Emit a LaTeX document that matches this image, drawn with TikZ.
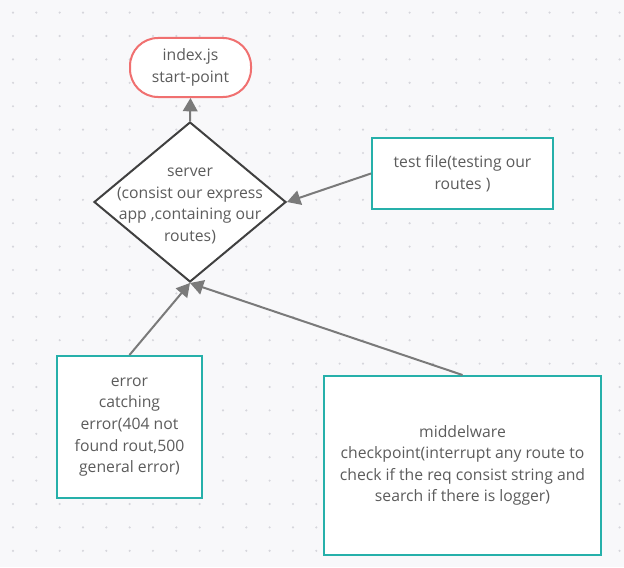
\documentclass[tikz,border=0pt]{standalone}
\usepackage{fontspec}
\setmainfont{Open Sans}
\usepackage{xcolor}
\usetikzlibrary{arrows.meta, positioning, shapes.geometric}

\definecolor{bgcol}{RGB}{248,248,250}
\definecolor{dotcol}{RGB}{214,214,220}
\definecolor{tealcol}{RGB}{38,176,170}
\definecolor{redcol}{RGB}{240,112,112}
\definecolor{linecol}{RGB}{122,122,122}
\definecolor{darkcol}{RGB}{64,64,64}
\definecolor{txtcol}{RGB}{92,92,92}

\begin{document}
\begin{tikzpicture}[x=0.75pt, y=-0.75pt,
    every node/.style={font=\fontsize{11.8}{16.2}\selectfont, text=txtcol, align=center},
    startbox/.style={draw=redcol, line width=1.5pt, fill=white, rounded corners=21pt,
        minimum width=90.75pt, minimum height=44.25pt},
    serverbox/.style={diamond, draw=darkcol, line width=1.5pt, fill=white, inner sep=0pt,
        minimum width=144pt, minimum height=120pt},
    filebox/.style={draw=tealcol, line width=1.5pt, fill=white, inner sep=0pt},
    link/.style={draw=linecol, line width=1.5pt, -{Triangle[length=10pt, width=11pt]}}]
    % background with dot grid
    \fill[bgcol] (0,0) rectangle (624,567);
    \useasboundingbox (0,0) rectangle (624,567);
    \foreach \i in {0,...,26}
        \foreach \j in {0,...,24}
            \fill[dotcol] ({13+23.33*\i},{12.6+23.4*\j}) circle (0.9pt);

    \node[startbox] (index) at (190.5,67.5) {index.js\\start-point};
    \node[serverbox] (server) at (190,202) {};
    \node (servertext) at (190,206) {server\\(consist our express\\app ,containing our\\routes)};
    \node[filebox, minimum width=135.75pt, minimum height=53.25pt] (test) at (462.5,173.5)
        {test file(testing our\\routes )};
    \node[filebox, minimum width=108.75pt, minimum height=106.5pt] (error) at (129.5,427)
        {error\\catching\\error(404 not\\found rout,500\\general error)};
    \node[filebox, minimum width=207.75pt, minimum height=134.25pt] (middleware) at (462.5,465.5)
        {middelware\\checkpoint(interrupt any route to\\check if the req consist string and\\search if there is logger)};

    \draw[link] (server.north) -- (index.south);
    \draw[link] (test.west) -- (server.east);
    \draw[link] (error.north) -- (server.south);
    \draw[link] (middleware.north) -- (server.south);
\end{tikzpicture}
\end{document}
